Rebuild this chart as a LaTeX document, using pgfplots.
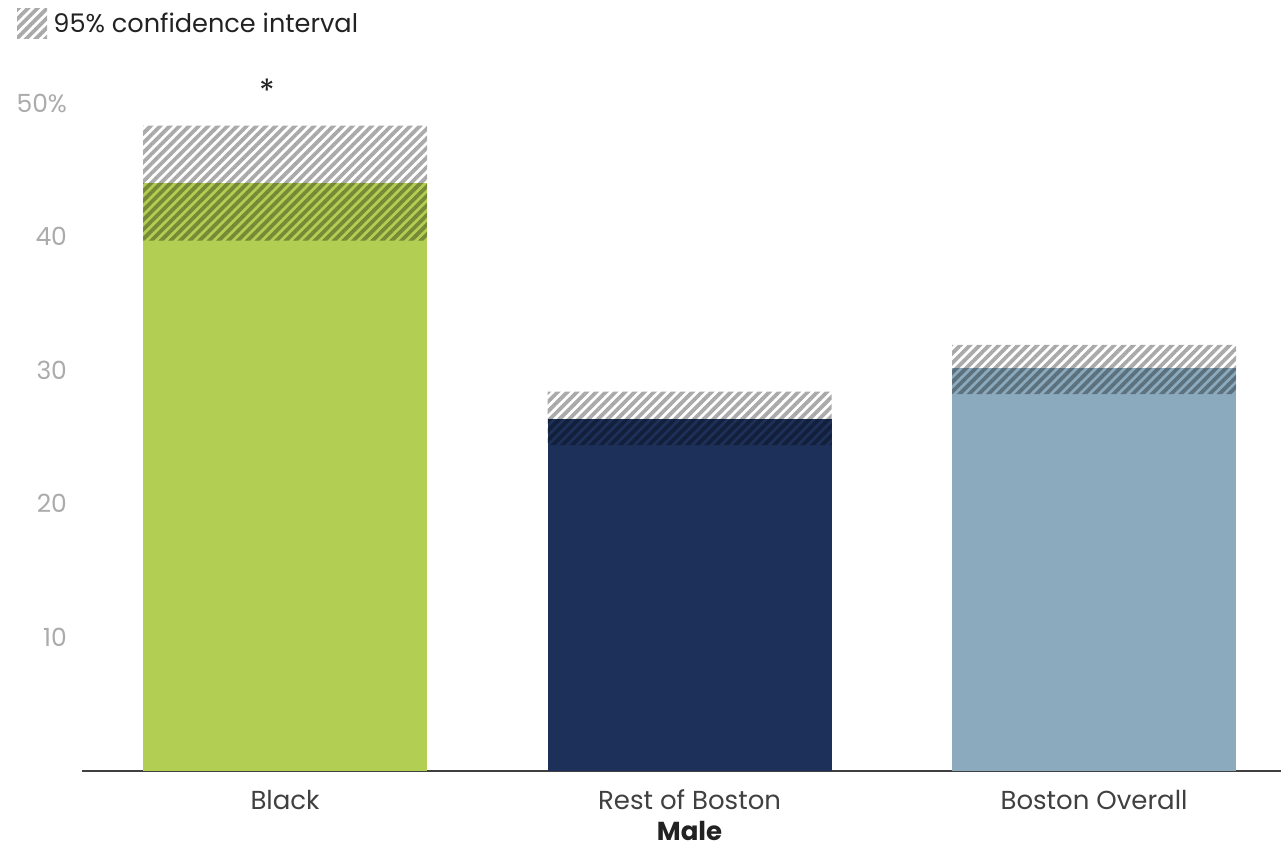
\documentclass[border=0pt]{standalone}
\usepackage{pgfplots}
\pgfplotsset{compat=1.18}
\usepackage{pgfplotstable}
\usetikzlibrary{patterns.meta}
\usepackage{fontspec}
\setmainfont{Poppins}

\definecolor{barGreen}{HTML}{B3CF53}
\definecolor{barNavy}{HTML}{1D3059}
\definecolor{barSteel}{HTML}{8CAABE}
\definecolor{tickGrey}{HTML}{ABABAB}
\definecolor{hatchGrey}{HTML}{ABABAB}
\definecolor{labelGrey}{HTML}{404040}
\definecolor{titleGrey}{HTML}{222222}

% estimate and 95% confidence bounds, male share (%)
\pgfplotstableread{
x lo est hi
0 39.7 44.0 48.3
1 24.4 26.35 28.4
2 28.2 30.2 31.9
}\citable

% grey stripes multiplied onto whatever lies beneath
\tikzset{cihatch/.style={pattern={Lines[angle=45,distance=3.4pt,line width=1.9pt]},
  pattern color=hatchGrey, blend mode=multiply, draw=none}}

\pgfplotsset{common/.style={
  scale only axis, width=599.5pt, height=334pt,
  xmin=-0.502, xmax=2.462, ymin=0, ymax=50,
  at={(41pt,36.5pt)}, anchor=south west}}

\begin{document}
\begin{tikzpicture}
\useasboundingbox (0,0) rectangle (640.5pt,422pt);

% point estimates
\begin{axis}[common,
  ybar, bar width=142pt, bar shift=0pt,
  axis x line*=bottom, axis y line*=left,
  y axis line style={draw=none},
  x axis line style={line width=0.9pt, color=labelGrey},
  xtick={0,1,2},
  xticklabels={Black, Rest of Boston, Boston Overall},
  ytick={10,20,30,40,50},
  yticklabels={10,20,30,40,50\%},
  major tick length=0pt,
  /pgf/number format/assume math mode=true,
  yticklabel style={font=\fontsize{12.5}{14}\selectfont, text=tickGrey, anchor=east, xshift=-4pt},
  xticklabel style={font=\fontsize{13}{15}\selectfont, text=labelGrey, anchor=north, yshift=-6pt},
  xlabel={\textbf{Male}},
  xlabel style={at={(axis description cs:0.5067,0)}, anchor=center, yshift=-30pt,
    font=\fontsize{13}{15}\selectfont, text=titleGrey},
  clip=false]
\addplot[fill=barGreen, draw=none, bar shift=0pt] table[x=x, y=est, skip coords between index={1}{3}] {\citable};
\addplot[fill=barNavy, draw=none, bar shift=0pt] table[x=x, y=est, skip coords between index={0}{1}, skip coords between index={2}{3}] {\citable};
\addplot[fill=barSteel, draw=none, bar shift=0pt] table[x=x, y=est, skip coords between index={0}{2}] {\citable};
\node[font=\fontsize{16}{18}\selectfont, text=titleGrey] at (axis cs:-0.045,50.9) {*};
\end{axis}

% confidence intervals as hatched bands
\begin{axis}[common, hide axis, ybar stacked, bar width=142pt]
\addplot[draw=none, fill=none] table[x=x, y=lo] {\citable};
\addplot[cihatch] table[x=x, y expr=\thisrow{hi}-\thisrow{lo}] {\citable};
\end{axis}

% legend
\fill[cihatch] (8.5pt,402.5pt) rectangle (23.5pt,417.5pt);
\node[anchor=base west, inner sep=0pt, font=\fontsize{12.8}{15}\selectfont, text=titleGrey]
  at (26.5pt,405.5pt) {95\% confidence interval};
\end{tikzpicture}
\end{document}
